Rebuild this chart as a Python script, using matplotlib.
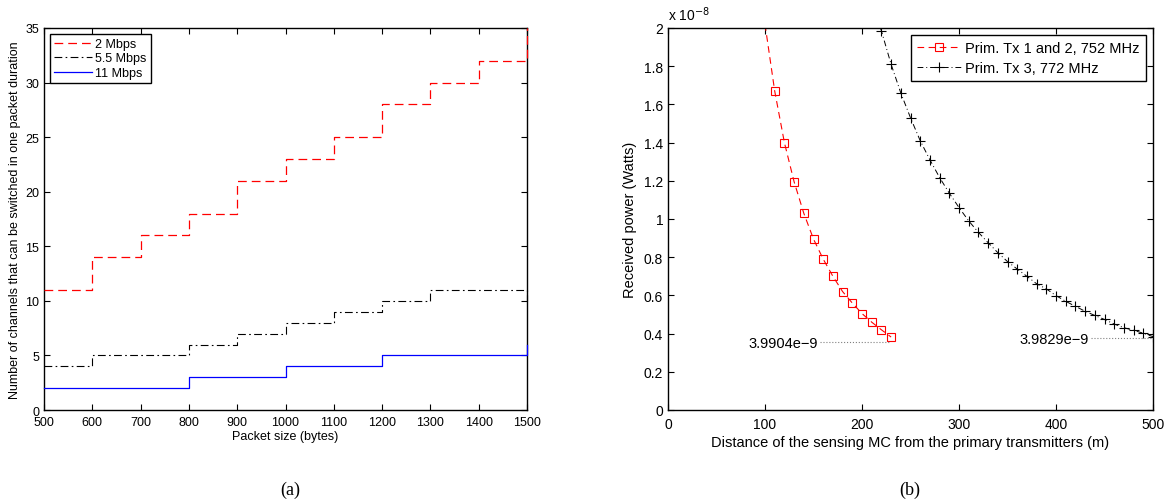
import numpy as np
import matplotlib
matplotlib.use("Agg")
from matplotlib import pyplot as plt

plt.rcParams['font.family'] = ['Liberation Sans', 'DejaVu Sans']

# (a) channels switched per packet duration
packet_size = [500, 600, 700, 800, 900, 1000, 1100, 1200, 1300, 1400, 1500]
ch_2mbps = [11, 14, 16, 18, 21, 23, 25, 28, 30, 32, 35]
ch_55mbps = [4, 5, 5, 6, 7, 8, 9, 10, 11, 11, 10]
ch_11mbps = [2, 2, 2, 3, 3, 4, 4, 5, 5, 5, 6]

# (b) received power (x 1e-8 W) vs distance
dist_tx12 = [100, 110, 120, 130, 140, 150, 160, 170, 180, 190, 200, 210, 220, 230]
pow_tx12 = [2.02, 1.67, 1.40, 1.195, 1.03, 0.895, 0.79, 0.70, 0.62, 0.56,
            0.505, 0.46, 0.42, 0.382]
dist_tx3 = [215, 220, 230, 240, 250, 260, 270, 280, 290, 300, 310, 320, 330,
            340, 350, 360, 370, 380, 390, 400, 410, 420, 430, 440, 450, 460,
            470, 480, 490, 500]
pow_tx3 = [2.06, 1.985, 1.81, 1.66, 1.53, 1.41, 1.31, 1.217, 1.135, 1.06, 0.99,
           0.93, 0.876, 0.824, 0.777, 0.738, 0.70, 0.661, 0.634, 0.599, 0.569,
           0.543, 0.517, 0.495, 0.474, 0.45, 0.431, 0.417, 0.402, 0.384]

fig = plt.figure(figsize=(11.71, 5.02), dpi=100)
ax1 = fig.add_axes([44 / 1171, 1 - 411 / 502, 483 / 1171, 382 / 502])
ax2 = fig.add_axes([668 / 1171, 1 - 411 / 502, 485 / 1171, 382 / 502])

ax1.tick_params(direction='in', top=True, right=True, labelsize=9,
                length=4, width=0.8)
ax1.tick_params(axis='x', pad=4)
ax2.tick_params(direction='in', top=True, right=True, labelsize=10,
                length=4, width=0.8)
ax2.tick_params(axis='x', pad=5)
for ax in (ax1, ax2):
    for s in ax.spines.values():
        s.set_linewidth(1.0)

# ---- (a)
ax1.step(packet_size, ch_2mbps, where='post', color='red', lw=0.9,
         dashes=(7, 4), label='2 Mbps', clip_on=False, zorder=3)
ax1.step(packet_size, ch_55mbps, where='post', color='black', lw=0.8,
         dashes=(7, 3, 1.5, 3), label='5.5 Mbps', clip_on=False, zorder=3)
ax1.step(packet_size, ch_11mbps, where='post', color='blue', lw=0.9,
         label='11 Mbps', clip_on=False, zorder=3)
ax1.set_xlim(500, 1500)
ax1.set_ylim(0, 35)
ax1.set_xticks(np.arange(500, 1501, 100))
ax1.set_yticks(np.arange(0, 36, 5))
ax1.set_xlabel('Packet size (bytes)', fontsize=9, labelpad=2)
ax1.set_ylabel('Number of channels that can be switched in one packet duration',
               fontsize=9, labelpad=3)
leg1 = ax1.legend(loc='upper left', fontsize=9, fancybox=False,
                  edgecolor='black', framealpha=1, borderaxespad=0.45,
                  handlelength=3.0, labelspacing=0.2, borderpad=0.35,
                  handletextpad=0.3)
leg1.get_frame().set_linewidth(1.0)

# ---- (b)
ax2.plot(dist_tx12, pow_tx12, color='red', lw=0.8, dashes=(6, 4),
         marker='s', markersize=5.5, markerfacecolor='none',
         markeredgewidth=0.8, markevery=list(range(1, len(dist_tx12))),
         label='Prim. Tx 1 and 2, 752 MHz')
ax2.plot(dist_tx3, pow_tx3, color='black', lw=0.7, dashes=(6, 3, 1, 3),
         marker='+', markersize=7, markeredgewidth=0.8,
         markevery=list(range(1, len(dist_tx3))),
         label='Prim. Tx 3, 772 MHz')
ax2.plot([157, 228], [0.356, 0.356], color='gray', lw=0.8, ls=':')
ax2.text(155, 0.353, '3.9904e\u22129', ha='right', va='center', fontsize=10.5)
ax2.plot([436, 500], [0.379, 0.379], color='gray', lw=0.8, ls=':')
ax2.text(434, 0.374, '3.9829e\u22129', ha='right', va='center', fontsize=10.5)

ax2.set_xlim(0, 500)
ax2.set_ylim(0, 2)
ax2.set_xticks(np.arange(0, 501, 100))
ax2.set_yticks(np.arange(0, 2.01, 0.2))
ax2.set_yticklabels(['0', '0.2', '0.4', '0.6', '0.8', '1', '1.2', '1.4',
                     '1.6', '1.8', '2'])
ax2.text(0.0, 1.012, 'x 10$^{-8}$', transform=ax2.transAxes, fontsize=10,
         ha='left', va='bottom')
ax2.set_xlabel('Distance of the sensing MC from the primary transmitters (m)',
               fontsize=10.5, labelpad=3)
ax2.set_ylabel('Received power (Watts)', fontsize=10.5, labelpad=5)
leg2 = ax2.legend(loc='upper right', fontsize=10.5, fancybox=False,
                  edgecolor='black', framealpha=1, borderaxespad=0.5,
                  handlelength=3.0, labelspacing=0.4, borderpad=0.4,
                  handletextpad=0.3)
leg2.get_frame().set_linewidth(1.0)

fig.text(290 / 1171, 1 - 490 / 502, '(a)', family='Liberation Serif',
         fontsize=13, ha='center', va='center')
fig.text(910 / 1171, 1 - 490 / 502, '(b)', family='Liberation Serif',
         fontsize=13, ha='center', va='center')

fig.savefig('out.png', dpi=100)
